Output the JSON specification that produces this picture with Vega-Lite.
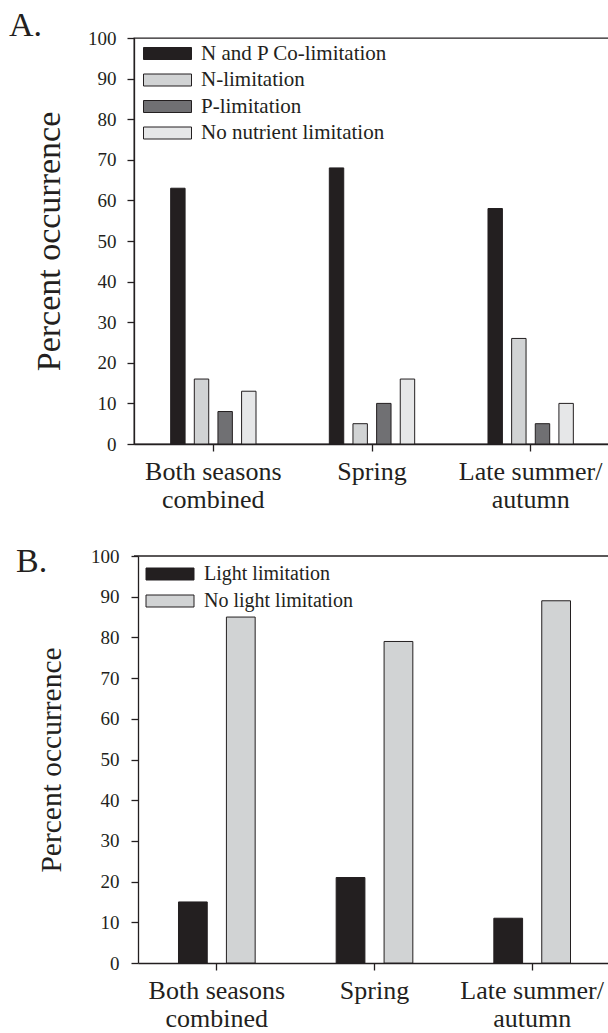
{
  "$schema": "https://vega.github.io/schema/vega-lite/v6.json",
  "padding": {"left": 8, "top": 8, "right": 0, "bottom": 0},
  "background": "white",
  "spacing": 32,
  "config": {
    "font": "Liberation Serif",
    "view": {"stroke": "#231f20", "strokeWidth": 1.3},
    "axis": {
      "labelFont": "Liberation Serif",
      "titleFont": "Liberation Serif",
      "labelColor": "#231f20",
      "titleColor": "#231f20",
      "titleFontWeight": "normal",
      "domainColor": "#231f20",
      "domainWidth": 1.3,
      "tickColor": "#231f20",
      "tickWidth": 1.3,
      "tickSize": 7,
      "grid": false
    },
    "legend": {
      "labelFont": "Liberation Serif",
      "labelColor": "#231f20",
      "labelLimit": 0,
      "symbolType": "M-4,-1H4V1H-4Z",
      "symbolSize": 144,
      "symbolStrokeColor": "#231f20",
      "symbolStrokeWidth": 1,
      "symbolOpacity": 1,
      "padding": 0
    }
  },
  "resolve": {
    "scale": {"color": "independent", "x": "independent", "xOffset": "independent", "y": "independent"},
    "legend": {"color": "independent"}
  },
  "vconcat": [
    {
      "title": {"text": "A.", "anchor": "start", "frame": "group", "fontSize": 34, "fontWeight": "normal", "font": "Liberation Serif", "color": "#231f20", "dx": -125, "dy": 43, "offset": 2, "baseline": "alphabetic"},
      "width": 476,
      "height": 406,
      "data": {"values": [
        {"season": "Both seasons combined", "type": "N and P Co-limitation", "pct": 63},
        {"season": "Both seasons combined", "type": "N-limitation", "pct": 16},
        {"season": "Both seasons combined", "type": "P-limitation", "pct": 8},
        {"season": "Both seasons combined", "type": "No nutrient limitation", "pct": 13},
        {"season": "Spring", "type": "N and P Co-limitation", "pct": 68},
        {"season": "Spring", "type": "N-limitation", "pct": 5},
        {"season": "Spring", "type": "P-limitation", "pct": 10},
        {"season": "Spring", "type": "No nutrient limitation", "pct": 16},
        {"season": "Late summer/autumn", "type": "N and P Co-limitation", "pct": 58},
        {"season": "Late summer/autumn", "type": "N-limitation", "pct": 26},
        {"season": "Late summer/autumn", "type": "P-limitation", "pct": 5},
        {"season": "Late summer/autumn", "type": "No nutrient limitation", "pct": 10}
      ]},
      "mark": {"type": "bar", "stroke": "#231f20", "strokeWidth": 1},
      "encoding": {
        "x": {
          "field": "season", "type": "nominal",
          "sort": ["Both seasons combined", "Spring", "Late summer/autumn"],
          "scale": {"paddingInner": 0.404, "paddingOuter": 0.202},
          "axis": {
            "title": null, "labelAngle": 0, "labelFontSize": 26, "labelPadding": 7, "labelLineHeight": 28,
            "labelExpr": "datum.value == 'Both seasons combined' ? ['Both seasons', 'combined'] : datum.value == 'Late summer/autumn' ? ['Late summer/', 'autumn'] : datum.value"
          }
        },
        "xOffset": {
          "field": "type", "type": "nominal",
          "scale": {"domain": ["N and P Co-limitation", "N-limitation", "P-limitation", "No nutrient limitation"], "paddingInner": 0.39, "paddingOuter": 0.195}
        },
        "y": {
          "field": "pct", "type": "quantitative",
          "scale": {"domain": [0, 100], "nice": false},
          "axis": {"title": "Percent occurrence", "titleFontSize": 34, "titlePadding": 21, "labelFontSize": 19, "labelPadding": 11, "values": [0, 10, 20, 30, 40, 50, 60, 70, 80, 90, 100]}
        },
        "color": {
          "field": "type", "type": "nominal",
          "scale": {"domain": ["N and P Co-limitation", "N-limitation", "P-limitation", "No nutrient limitation"], "range": ["#231f20", "#d1d3d4", "#707073", "#e6e7e8"]},
          "legend": {"title": null, "orient": "none", "legendX": 23, "legendY": 5, "labelFontSize": 21, "rowPadding": 4.5, "labelOffset": 23}
        }
      }
    },
    {
      "title": {"text": "B.", "anchor": "start", "frame": "group", "fontSize": 34, "fontWeight": "normal", "font": "Liberation Serif", "color": "#231f20", "dx": -118, "dy": 59, "offset": 0, "baseline": "alphabetic"},
      "width": 476,
      "height": 407,
      "view": {"stroke": null},
      "data": {"values": [
        {"season": "Both seasons combined", "type": "Light limitation", "pct": 15},
        {"season": "Both seasons combined", "type": "No light limitation", "pct": 85},
        {"season": "Spring", "type": "Light limitation", "pct": 21},
        {"season": "Spring", "type": "No light limitation", "pct": 79},
        {"season": "Late summer/autumn", "type": "Light limitation", "pct": 11},
        {"season": "Late summer/autumn", "type": "No light limitation", "pct": 89}
      ]},
      "layer": [
        {
          "mark": {"type": "bar", "stroke": "#231f20", "strokeWidth": 1},
          "encoding": {
            "x": {
              "field": "season", "type": "nominal",
              "sort": ["Both seasons combined", "Spring", "Late summer/autumn"],
              "scale": {"paddingInner": 0, "paddingOuter": 0, "range": [4, 477]},
              "axis": {
                "title": null, "labelAngle": 0, "labelFontSize": 26, "labelPadding": 7, "labelLineHeight": 28,
                "labelExpr": "datum.value == 'Both seasons combined' ? ['Both seasons', 'combined'] : datum.value == 'Late summer/autumn' ? ['Late summer/', 'autumn'] : datum.value"
              }
            },
            "xOffset": {
              "field": "type", "type": "nominal",
              "scale": {"domain": ["Light limitation", "No light limitation"], "paddingInner": 0.4, "paddingOuter": 0.845}
            },
            "y": {
              "field": "pct", "type": "quantitative",
              "scale": {"domain": [0, 100], "nice": false},
              "axis": {"title": "Percent occurrence", "titleFontSize": 29.5, "titlePadding": 24, "labelFontSize": 19, "labelPadding": 12, "offset": -4, "values": [0, 10, 20, 30, 40, 50, 60, 70, 80, 90, 100]}
            },
            "color": {
              "field": "type", "type": "nominal",
              "scale": {"domain": ["Light limitation", "No light limitation"], "range": ["#231f20", "#d1d3d4"]},
              "legend": {"title": null, "orient": "none", "legendX": 26, "legendY": 8, "labelFontSize": 20, "rowPadding": 7, "labelOffset": 24}
            }
          }
        },
        {
          "data": {"values": [{"top": 100}]},
          "mark": {"type": "rule", "color": "#231f20", "strokeWidth": 1.3},
          "encoding": {"y": {"field": "top", "type": "quantitative"}}
        }
      ]
    }
  ]
}
